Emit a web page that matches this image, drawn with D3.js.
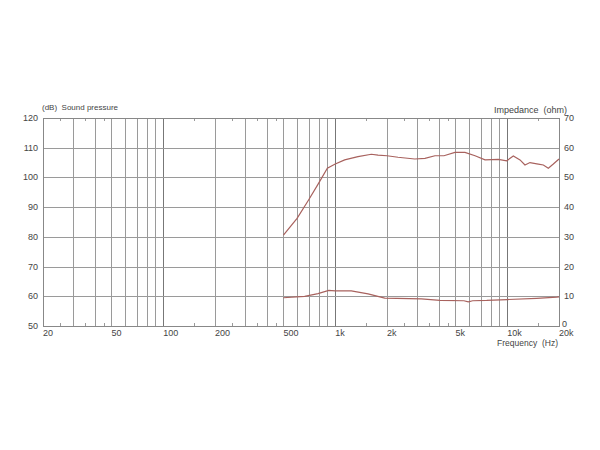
<!DOCTYPE html>
<html>
<head>
<meta charset="utf-8">
<script src="https://cdn.jsdelivr.net/npm/d3@7"></script>
<style>
  body { margin: 0; background: #fff; }
  svg { font-family: "Liberation Sans", Arial, sans-serif; }
  text { white-space: pre; }
</style>
</head>
<body>
<svg id="chart"></svg>
<script>
// frequency response (Hz, dB)
const splFreq = [500, 600, 700, 800, 900, 1000, 1135, 1356, 1622, 1774, 2000, 2317, 2898, 3326, 3802, 4287, 4966, 5680, 6500, 7430, 8880, 9930, 10850, 11870, 12680, 13560, 15160, 16220, 17340, 18540, 20000];
const splDb = [80.6, 86.2, 92.4, 98, 103.1, 104.5, 105.9, 107, 107.8, 107.5, 107.3, 106.8, 106.2, 106.4, 107.3, 107.3, 108.4, 108.4, 107.3, 105.9, 106.1, 105.6, 107.2, 105.9, 104.2, 105, 104.5, 104.2, 103.1, 104.5, 106.2];

// impedance (Hz, ohm)
const impFreq = [500, 664, 794, 917, 1000, 1240, 1552, 1940, 3170, 4065, 5600, 5940, 6300, 7600, 10000, 14830, 19400, 20000];
const impOhm = [9.5, 10.0, 10.9, 12.0, 11.8, 11.8, 10.8, 9.4, 9.1, 8.6, 8.5, 8.1, 8.5, 8.6, 8.9, 9.3, 9.7, 9.8];

const gridFreqs = [30, 40, 50, 60, 70, 80, 90, 100, 200, 300, 400, 500, 600, 700, 800, 900, 1000, 2000, 3000, 4000, 5000, 6000, 7000, 8000, 9000, 10000];
const minorFreqs = [25, 35, 45, 150, 250, 350, 450, 1500, 2500, 3500, 4500, 15000];
const xLabels = [[20, '20'], [50, '50'], [100, '100'], [200, '200'], [500, '500'], [1000, '1k'], [2000, '2k'], [5000, '5k'], [10000, '10k'], [20000, '20k']];
const dbTicks = [50, 60, 70, 80, 90, 100, 110, 120];
const ohmTicks = [10, 20, 30, 40, 50, 60, 70];

const W = 600, H = 450;
const mLeft = 43, mRight = 559, mTop = 118, mBottom = 326;

const svg = d3.select('#chart').attr('width', W).attr('height', H);

const x = d3.scaleLog().domain([20, 20000]).range([mLeft, mRight]);
const yDb = d3.scaleLinear().domain([50, 120]).range([mBottom, mTop]);
const yOhm = d3.scaleLinear().domain([0, 70]).range([mBottom, mTop]);

const px = v => Math.round(v) + 0.5;

// grid
svg.append('g').selectAll('line').data(gridFreqs).join('line')
  .attr('x1', d => px(x(d))).attr('x2', d => px(x(d)))
  .attr('y1', mTop).attr('y2', mBottom)
  .attr('stroke', d => [100, 1000, 10000].includes(d) ? '#777' : '#9a9a9a');

svg.append('g').selectAll('line').data(dbTicks.slice(1, -1)).join('line')
  .attr('x1', mLeft).attr('x2', mRight)
  .attr('y1', d => px(yDb(d))).attr('y2', d => px(yDb(d)))
  .attr('stroke', '#9a9a9a');

// minor ticks top/bottom
const minor = svg.append('g').attr('stroke', '#9a9a9a');
minor.selectAll('.mt').data(minorFreqs).join('line').attr('class', 'mt')
  .attr('x1', d => px(x(d))).attr('x2', d => px(x(d)))
  .attr('y1', mTop).attr('y2', mTop + 3);
minor.selectAll('.mb').data(minorFreqs).join('line').attr('class', 'mb')
  .attr('x1', d => px(x(d))).attr('x2', d => px(x(d)))
  .attr('y1', mBottom - 3).attr('y2', mBottom);

// frame
svg.append('rect')
  .attr('x', mLeft + 0.5).attr('y', mTop + 0.5)
  .attr('width', mRight - mLeft).attr('height', mBottom - mTop)
  .attr('fill', 'none').attr('stroke', '#888');

// curves
const splLine = d3.line().x((d, i) => x(splFreq[i])).y(d => yDb(d));
svg.append('path').datum(splDb)
  .attr('d', splLine)
  .attr('fill', 'none').attr('stroke', '#a8625e').attr('stroke-width', 1.2);

const impLine = d3.line().x((d, i) => x(impFreq[i])).y(d => yOhm(d));
svg.append('path').datum(impOhm)
  .attr('d', impLine)
  .attr('fill', 'none').attr('stroke', '#a8625e').attr('stroke-width', 1.2);

// labels
const txt = svg.append('g').attr('fill', '#444').attr('font-size', 9);

txt.selectAll('.xl').data(xLabels).join('text').attr('class', 'xl')
  .attr('x', d => x(d[0])).attr('y', 336)
  .text(d => d[1]);

txt.selectAll('.yl').data(dbTicks).join('text').attr('class', 'yl')
  .attr('x', 38).attr('y', d => yDb(d) + 3)
  .attr('text-anchor', 'end')
  .text(d => d);

txt.selectAll('.yr').data(ohmTicks).join('text').attr('class', 'yr')
  .attr('x', 564).attr('y', d => yOhm(d) + 3)
  .text(d => d);

txt.append('text').attr('x', 562).attr('y', 327).text('0');

txt.append('text').attr('x', 42).attr('y', 110)
  .attr('font-size', 8)
  .text('(dB)  Sound pressure');

txt.append('text').attr('x', 567).attr('y', 113)
  .attr('text-anchor', 'end').attr('font-size', 9)
  .text('Impedance  (ohm)');

txt.append('text').attr('x', 558).attr('y', 346)
  .attr('text-anchor', 'end').attr('font-size', 8.5)
  .text('Frequency  (Hz)');
</script>
</body>
</html>
